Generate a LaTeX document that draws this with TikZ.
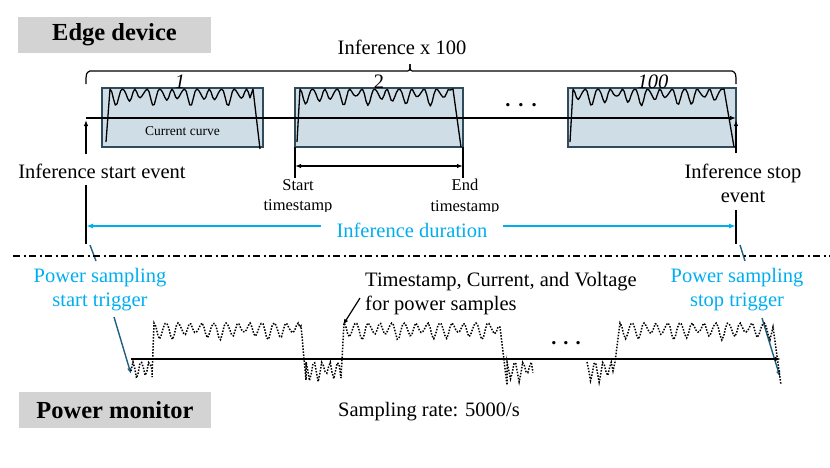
\documentclass[tikz,border=0pt]{standalone}
\usepackage{fontspec}
\setmainfont{Liberation Serif}
\usetikzlibrary{arrows.meta}
\definecolor{lblgray}{RGB}{211,211,211}
\definecolor{boxfill}{RGB}{207,221,230}
\definecolor{boxline}{RGB}{47,74,90}
\definecolor{cyantext}{RGB}{0,174,239}
\definecolor{trigblue}{RGB}{31,95,128}
\begin{document}
\begin{tikzpicture}[x=1pt,y=-1pt,
  main/.style={font=\fontsize{20.5}{24}\selectfont, inner sep=0pt, align=center},
  smalltext/.style={font=\fontsize{16.5}{20.5}\selectfont, inner sep=0pt, align=center},
  tinytext/.style={font=\fontsize{13.5}{16}\selectfont, inner sep=0pt},
  titlebox/.style={fill=lblgray, font=\fontsize{24.5}{28}\selectfont\bfseries, minimum height=36pt, inner sep=0pt},
  infbox/.style={draw=boxline, fill=boxfill, line width=1.2pt, minimum height=59pt, inner sep=0pt},
  curve/.style={line width=1.3pt, line join=round},
  psamp/.style={line width=1.5pt, dash pattern=on 1.5pt off 1.5pt},
  blk/.style={line width=1.2pt},
  arr/.style={line width=1.2pt, -{Latex[length=6pt,width=4.5pt]}},
  cyanarr/.style={line width=1.6pt, draw=cyantext, -{Latex[length=7pt,width=5pt]}},
  trigarr/.style={line width=1.4pt, draw=trigblue, -{Latex[length=6pt,width=4.5pt]}},
  cyantxt/.style={main, text=cyantext},
]
\useasboundingbox (0,0) rectangle (830,467);

% title boxes
\node[titlebox, minimum width=193pt] (edge) at (114.5,35) {Edge device};
\node[titlebox, minimum width=192pt] (pmon) at (115,410) {Power monitor};

% brace
\node[main] (infx) at (402,47) {Inference x 100};
\coordinate (brL) at (86,84);
\coordinate (brM) at (410,64);
\coordinate (brR) at (736,84);
\draw[blk] (brL) .. controls (86,73) .. (90,71) -- (405,71) .. controls (410,71) .. (brM);
\draw[blk] (brM) .. controls (410,71) .. (415,71) -- (732,71) .. controls (736,73) .. (brR);

% inference boxes
\node[infbox, minimum width=161pt] (b1) at (182.5,117.5) {};
\node[infbox, minimum width=168pt] (b2) at (379,117.5) {};
\node[infbox, minimum width=168pt] (b3) at (652,117.5) {};
\node[main, anchor=base] (l1) at (180,88) {\itshape 1};
\node[main, anchor=base] (l2) at (379,88) {2};
\node[main, anchor=base] (l3) at (653,88) {\itshape 100};
\node[tinytext] (cc) at (182.5,131) {Current curve};

% current curves
\draw[curve] (106,142) -- (110,89) -- plot[domain=0:140, samples=80] ({110+\x},{89+(12+5*sin(\x*19))*(1-cos(\x*29))/2}) -- (253,89) -- (260,149);
\draw[curve] (297,142) -- (300,89) -- plot[domain=0:150, samples=85] ({300+\x},{89+(12+5*sin(\x*17+40))*(1-cos(\x*29))/2}) -- (453,89) -- (461,147);
\draw[curve] (570,142) -- (573,89) -- plot[domain=0:148, samples=85] ({573+\x},{89+(12+5*sin(\x*21+80))*(1-cos(\x*29))/2}) -- (724,89) -- (734,147);

% top timeline
\coordinate (tlS) at (86,118);
\coordinate (tlE) at (736,118);
\draw[arr] (tlS) -- (tlE);
\node[main, anchor=base] (dots1) at (521,106) {\bfseries .\hspace{8pt}.\hspace{8pt}.};

% event arrows
\coordinate (ua0) at (86,154);
\coordinate (ua1) at (86,120);
\draw[arr] (ua0) -- (ua1);
\coordinate (ub0) at (736,153);
\coordinate (ub1) at (736,120);
\draw[arr] (ub0) -- (ub1);

% timestamps
\coordinate (st0) at (295,147);
\coordinate (st1) at (295,178);
\coordinate (en0) at (463,147);
\coordinate (en1) at (463,178);
\draw[blk] (st0) -- (st1);
\draw[blk] (en0) -- (en1);
\coordinate (da) at (295,166);
\coordinate (db) at (463,166);
\draw[arr, {Latex[length=6pt,width=4.5pt]}-{Latex[length=6pt,width=4.5pt]}] (da) -- (db);
\begin{scope}
\clip (250,170) rectangle (520,211);
\node[smalltext] (stt) at (298,197) {Start\\timestamp};
\node[smalltext] (ent) at (465,197) {End\\timestamp};
\end{scope}

% events text
\node[main] (ise) at (102,171) {Inference start event};
\node[main] (ist) at (743,183) {Inference stop\\event};

% vertical lines to duration
\coordinate (vl0) at (86,185);
\coordinate (vl1) at (86,244);
\coordinate (vr0) at (736,210);
\coordinate (vr1) at (736,244);
\draw[blk] (vl0) -- (vl1);
\draw[blk] (vr0) -- (vr1);

% inference duration
\node[cyantxt] (idur) at (412,230) {Inference duration};
\coordinate (dl) at (86,226);
\coordinate (dr) at (736,226);
\draw[cyanarr] (idur.west |- dl) ++(-15,0) -- (dl);
\draw[cyanarr] (idur.east |- dr) ++(15,0) -- (dr);

% trigger ticks
\coordinate (tk1a) at (90,245);
\coordinate (tk1b) at (96,261);
\coordinate (tk2a) at (740,245);
\coordinate (tk2b) at (745,261);
\draw[line width=1.4pt, draw=trigblue] (tk1a) -- (tk1b);
\draw[line width=1.4pt, draw=trigblue] (tk2a) -- (tk2b);

% separator
\coordinate (sepL) at (13,256);
\coordinate (sepR) at (830,256);
\draw[line width=1.5pt, dash pattern=on 7pt off 3.5pt on 2pt off 3.5pt] (sepL) -- (sepR);

% trigger texts
\node[cyantxt] (pst) at (100,290) {Power sampling\\start trigger};
\node[cyantxt] (psp) at (737,290) {Power sampling\\stop trigger};
\coordinate (ta0) at (114,317);
\coordinate (ta1) at (131,374);
\coordinate (tb0) at (762,318);
\coordinate (tb1) at (780,377);
\draw[trigarr] (ta0) -- (ta1);
\draw[trigarr] (tb0) -- (tb1);

% power timeline
\coordinate (ptS) at (131,359);
\coordinate (ptE) at (781,359);
\draw[arr] (ptS) -- (ptE);

% power samples
\draw[psamp] (131,371) -- plot[domain=0:19, samples=12] ({133+\x},{362+(12+5*sin(\x*31))*(1-cos(\x*45))/2}) -- (152,377) -- (154,323)
  -- plot[domain=0:146, samples=80] ({154+\x},{323+(13+4*sin(\x*23))*(1-cos(\x*30))/2}) -- (301,326)
  -- (306,380) -- plot[domain=0:33, samples=20] ({306+\x},{362+(16+5*sin(\x*31+30))*(1-cos(\x*45))/2}) -- (341,378)
  -- (344,323) -- plot[domain=0:154, samples=85] ({344+\x},{323+(13+4*sin(\x*21+50))*(1-cos(\x*30))/2}) -- (500,327)
  -- (507,385) -- plot[domain=0:26, samples=16] ({507+\x},{362+(16+5*sin(\x*29+60))*(1-cos(\x*45))/2});
\draw[psamp] (587,362) -- plot[domain=0:26, samples=16] ({587+\x},{362+(16+5*sin(\x*33+20))*(1-cos(\x*45))/2}) -- (615,362)
  -- (620,323) -- plot[domain=0:150, samples=82] ({620+\x},{323+(13+4*sin(\x*22+10))*(1-cos(\x*30))/2}) -- (773,327)
  -- (781,385);
\node[main, anchor=base] (dots2) at (566,344) {\bfseries .\hspace{7pt}.\hspace{7pt}.};

% timestamp label
\node[main, anchor=west, align=left] (tsl) at (365,294) {Timestamp, Current, and Voltage\\for power samples};
\coordinate (tsa0) at (360,298);
\coordinate (tsa1) at (343,325);
\draw[arr] (tsa0) -- (tsa1);

\node[main, anchor=west] (srate) at (338,412) {Sampling rate: 5000/s};
\end{tikzpicture}
\end{document}
